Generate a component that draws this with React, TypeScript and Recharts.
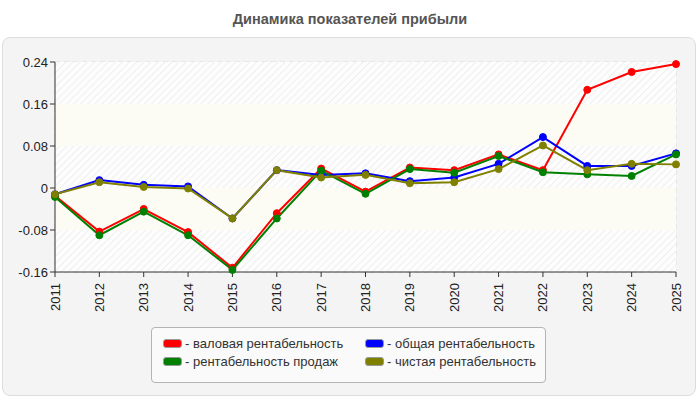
import React from "react";
import {
  LineChart,
  Line,
  XAxis,
  YAxis,
  CartesianGrid,
  ReferenceArea
} from "recharts";

const years = ["2011", "2012", "2013", "2014", "2015", "2016", "2017", "2018", "2019", "2020", "2021", "2022", "2023", "2024", "2025"];
const gross = [-0.015, -0.083, -0.04, -0.084, -0.152, -0.048, 0.037, -0.007, 0.039, 0.034, 0.064, 0.034, 0.187, 0.221, 0.236];
const total = [-0.012, 0.015, 0.006, 0.003, -0.058, 0.034, 0.025, 0.028, 0.013, 0.02, 0.046, 0.097, 0.042, 0.042, 0.066];
const sales = [-0.017, -0.09, -0.045, -0.09, -0.156, -0.058, 0.033, -0.011, 0.036, 0.029, 0.061, 0.03, 0.026, 0.023, 0.064];
const net = [-0.012, 0.011, 0.002, -0.001, -0.058, 0.034, 0.02, 0.025, 0.009, 0.011, 0.036, 0.081, 0.034, 0.046, 0.045];
const yTicks = [-0.16, -0.08, 0, 0.08, 0.16, 0.24];

const series = [
  { key: "gross", name: "валовая рентабельность", color: "#ff0000" },
  { key: "total", name: "общая рентабельность", color: "#0000ff" },
  { key: "sales", name: "рентабельность продаж", color: "#008000" },
  { key: "net", name: "чистая рентабельность", color: "#808000" }
];

const data = years.map((y, i) => ({
  year: y,
  gross: gross[i],
  total: total[i],
  sales: sales[i],
  net: net[i]
}));

const font = "'Liberation Sans', Arial, sans-serif";

const XTick = (props: any) => {
  const { x, y, payload } = props;
  return (
    <text
      x={x}
      y={y + 4}
      transform={`rotate(-90, ${x}, ${y + 4})`}
      textAnchor="end"
      dominantBaseline="central"
      fontSize={13}
      fontFamily={font}
      fill="#222"
    >
      {payload.value}
    </text>
  );
};

const LegendBox = () => (
  <div
    style={{
      position: "absolute",
      left: 151,
      top: 327,
      width: 395,
      height: 56,
      boxSizing: "border-box",
      border: "1px solid #b4b4b4",
      borderRadius: 4,
      background: "#fafafa",
      padding: "7px 0 0 11px",
      display: "grid",
      gridTemplateColumns: "202px 190px",
      alignContent: "start",
      rowGap: 1,
      fontFamily: font,
      fontSize: 13,
      color: "#333"
    }}
  >
    {series.map((s) => (
      <div key={s.key} style={{ display: "flex", alignItems: "center", height: 17 }}>
        <span
          style={{
            display: "inline-block",
            width: 17,
            height: 7,
            background: s.color,
            border: "1px solid #999",
            borderRadius: 3,
            marginRight: 3
          }}
        />
        <span>- {s.name}</span>
      </div>
    ))}
  </div>
);

const App = () => {
  return (
    <div style={{ position: "absolute", left: 0, top: 0, width: 700, height: 400, background: "#fff" }}>
      <div
        style={{
          position: "absolute",
          left: 0,
          top: 11,
          width: 700,
          textAlign: "center",
          fontFamily: font,
          fontWeight: "bold",
          fontSize: 14.5,
          color: "#555"
        }}
      >
        Динамика показателей прибыли
      </div>
      <div
        style={{
          position: "absolute",
          left: 2,
          top: 37,
          width: 694,
          height: 359,
          boxSizing: "border-box",
          background: "#f4f4f4",
          border: "1px solid #ddd",
          borderRadius: 8
        }}
      />
      <div style={{ position: "absolute", left: 0, top: 0 }}>
        <LineChart
          width={700}
          height={400}
          data={data}
          margin={{ top: 62, right: 24, left: 5, bottom: 88 }}
        >
          <defs>
            <pattern id="hatch" width="5" height="5" patternUnits="userSpaceOnUse" patternTransform="rotate(45)">
              <rect width="5" height="5" fill="#fdfdfd" />
              <line x1="0" y1="0" x2="0" y2="5" stroke="#ebebeb" strokeWidth="1.5" />
            </pattern>
          </defs>
          <ReferenceArea y1={0.16} y2={0.24} fill="url(#hatch)" fillOpacity={1} />
          <ReferenceArea y1={0.08} y2={0.16} fill="#fcfcf5" fillOpacity={1} />
          <ReferenceArea y1={0} y2={0.08} fill="url(#hatch)" fillOpacity={1} />
          <ReferenceArea y1={-0.08} y2={0} fill="#fcfcf5" fillOpacity={1} />
          <ReferenceArea y1={-0.16} y2={-0.08} fill="url(#hatch)" fillOpacity={1} />
          <CartesianGrid stroke="#dcdcdc" strokeDasharray="5 4" />
          <XAxis
            dataKey="year"
            padding={{ left: 0, right: 0 }}
            interval={0}
            height={40}
            tick={<XTick />}
            tickLine={{ stroke: "#333" }}
            axisLine={{ stroke: "#333" }}
            tickSize={5}
          />
          <YAxis
            width={50}
            domain={[-0.16, 0.24]}
            ticks={yTicks}
            interval={0}
            tickFormatter={(v: number) => String(v)}
            tick={{ fontSize: 13, fontFamily: font, fill: "#222" }}
            tickLine={{ stroke: "#333" }}
            axisLine={{ stroke: "#333" }}
            tickSize={5}
          />
          {series.map((s) => (
            <Line
              key={s.key}
              dataKey={s.key}
              name={s.name}
              stroke={s.color}
              strokeWidth={2}
              dot={{ r: 3.5, fill: s.color, stroke: s.color, strokeWidth: 1 }}
              isAnimationActive={false}
            />
          ))}
        </LineChart>
      </div>
      <LegendBox />
    </div>
  );
};

export default App;
